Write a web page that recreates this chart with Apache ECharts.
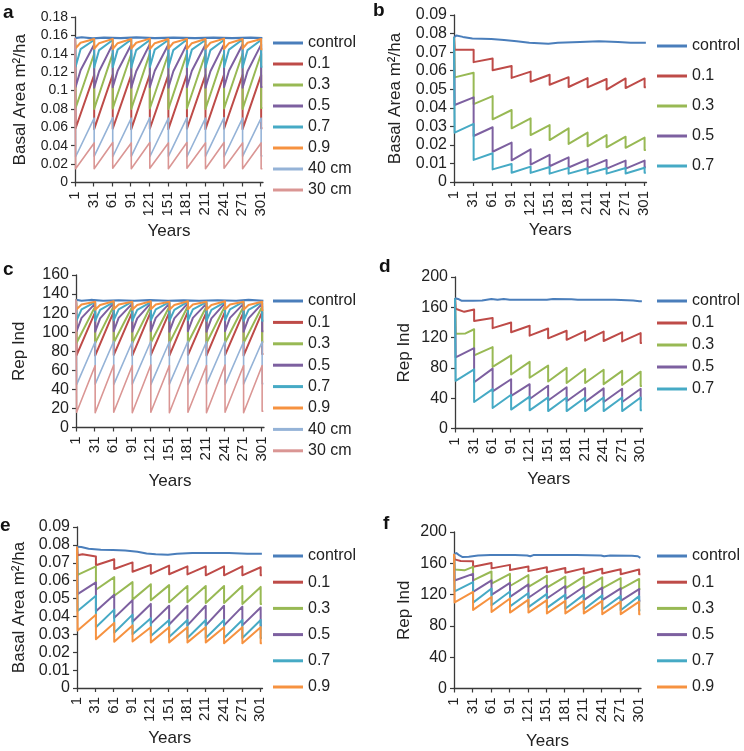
<!DOCTYPE html>
<html><head><meta charset="utf-8">
<script src="https://cdn.jsdelivr.net/npm/echarts@6/dist/echarts.min.js"></script>
<style>html,body{margin:0;padding:0;background:#fff}#c{width:744px;height:751px}</style>
</head><body><div id="c"></div>
<script>
// ---------- shared x data ----------
const tickYears = [1, 31, 61, 91, 121, 151, 181, 211, 241, 271, 301];
const cutYears  = [2, 32, 62, 92, 122, 152, 182, 212, 242, 272, 302];
const endYear = 304;
const midLag = 8;

// ---------- panel a : Basal Area (size-class harvest) ----------
const aControl = [[1,0.157],[12,0.158],[30,0.1568],[48,0.1575],[75,0.157],[100,0.1578],[130,0.157],[160,0.1575],[195,0.157],[225,0.1576],[255,0.157],[285,0.1575],[304,0.157]];
const a09Tops    = [0.157,0.156,0.1562,0.156,0.1565,0.156,0.1562,0.156,0.1565,0.156,0.156];
const a09Bottoms = [0.146,0.1455,0.145,0.1455,0.145,0.1455,0.145,0.1455,0.145,0.1455,0.145];
const a09Mids    = [0.152,0.1515,0.1515,0.152,0.1515,0.152,0.1515,0.152,0.1515,0.152];
const a07Tops    = [0.157,0.155,0.155,0.1555,0.155,0.155,0.1555,0.155,0.155,0.1555,0.155];
const a07Bottoms = [0.126,0.125,0.1255,0.125,0.1255,0.125,0.1255,0.125,0.1255,0.125,0.126];
const a07Mids    = [0.145,0.144,0.1445,0.144,0.1445,0.144,0.1445,0.144,0.1445,0.144];
const a05Tops    = [0.157,0.150,0.1505,0.150,0.1505,0.150,0.1505,0.150,0.1505,0.150,0.150];
const a05Bottoms = [0.104,0.103,0.1035,0.103,0.1035,0.103,0.1035,0.103,0.1035,0.103,0.104];
const a05Mids    = [0.122,0.121,0.1215,0.121,0.1215,0.121,0.1215,0.121,0.1215,0.121];
const a03Tops    = [0.157,0.140,0.1405,0.140,0.1405,0.140,0.1405,0.140,0.1405,0.140,0.140];
const a03Bottoms = [0.081,0.080,0.0805,0.080,0.0805,0.080,0.0805,0.080,0.0805,0.080,0.081];
const a01Tops    = [0.157,0.117,0.1175,0.117,0.1175,0.117,0.1175,0.117,0.1175,0.117,0.117];
const a01Bottoms = [0.059,0.058,0.0585,0.058,0.0585,0.058,0.0585,0.058,0.0585,0.058,0.059];
const a40Tops    = [0.157,0.070,0.0705,0.070,0.0705,0.070,0.0705,0.070,0.0705,0.070,0.070];
const a40Bottoms = [0.028,0.0285,0.028,0.0285,0.028,0.0285,0.028,0.0285,0.028,0.0285,0.029];
const a30Tops    = [0.157,0.043,0.0435,0.043,0.0435,0.043,0.0435,0.043,0.0435,0.043,0.043];
const a30Bottoms = [0.015,0.015,0.0155,0.015,0.0155,0.015,0.0155,0.015,0.0155,0.015,0.015];

// ---------- panel b : Basal Area (proportional harvest) ----------
const bControl = [[1,0.078],[5,0.079],[15,0.0782],[30,0.0773],[60,0.077],[80,0.0765],[100,0.0758],[120,0.075],[150,0.0745],[165,0.075],[200,0.0755],[230,0.0758],[260,0.0755],[280,0.075],[304,0.075]];
const b01Tops    = [0.078,0.0713,0.0665,0.0625,0.0595,0.0578,0.0565,0.056,0.0555,0.0558,0.0558];
const b01Bottoms = [0.0713,0.0646,0.0602,0.0561,0.054,0.0524,0.0512,0.051,0.0498,0.0506,0.051];
const b03Tops    = [0.078,0.0589,0.0463,0.0388,0.0343,0.0307,0.0289,0.0266,0.0253,0.0244,0.0239];
const b03Bottoms = [0.0564,0.042,0.0338,0.0289,0.0253,0.0226,0.0205,0.0192,0.0187,0.0184,0.0172];
const b05Tops    = [0.078,0.0456,0.0295,0.0212,0.0176,0.0146,0.0133,0.0122,0.0119,0.0115,0.0115];
const b05Bottoms = [0.0415,0.0248,0.0163,0.0117,0.0094,0.0085,0.0078,0.0076,0.0072,0.0072,0.008];
const b07Tops    = [0.078,0.0313,0.0155,0.0097,0.0083,0.0081,0.0076,0.0074,0.0074,0.0075,0.0077];
const b07Bottoms = [0.0266,0.0119,0.0068,0.005,0.0049,0.0045,0.0045,0.0045,0.0045,0.0046,0.005];

// ---------- panel c : Rep Ind (size-class harvest) ----------
const cControl = [[1,134],[10,133],[25,133.8],[45,133],[70,133.5],[95,133],[120,133.6],[150,133],[175,133.4],[200,133],[230,133.5],[260,133],[280,134],[304,133]];
const c09Tops    = [134,132,132.5,132,132.5,132,132.5,132,132.5,132,132];
const c09Bottoms = [124,123.5,124,123.5,124,123.5,124,123.5,124,123.5,123];
const c09Mids    = [129,128.5,129,128.5,129,128.5,129,128.5,129,128.5];
const c07Tops    = [134,131.5,131.5,132,131.5,131.5,132,131.5,131.5,132,131.5];
const c07Bottoms = [112.5,112,112.5,112,112.5,112,112.5,112,112.5,112,112];
const c07Mids    = [124,123.5,124,123.5,124,123.5,124,123.5,124,123.5];
const c05Tops    = [134,130,130.5,130,130.5,130,130.5,130,130.5,130,130];
const c05Bottoms = [101,100.5,101,100.5,101,100.5,101,100.5,101,100.5,101];
const c05Mids    = [115,114.5,115,114.5,115,114.5,115,114.5,115,114.5];
const c03Tops    = [134,127,127.5,127,127.5,127,127.5,127,127.5,127,127];
const c03Bottoms = [89,88.5,89,88.5,89,88.5,89,88.5,89,88.5,90];
const c01Tops    = [134,121,121.5,121,121.5,121,121.5,121,121.5,121,121];
const c01Bottoms = [76,75.5,76,75.5,76,75.5,76,75.5,76,75.5,77];
const c40Tops    = [134,90,90.5,90,90.5,90,90.5,90,90.5,90,90];
const c40Bottoms = [45,45.5,45,45.5,45,45.5,45,45.5,45,45.5,46];
const c30Tops    = [134,65,65.5,65,65.5,65,65.5,65,65.5,65,65];
const c30Bottoms = [16,15.5,16,15.5,16,15.5,16,15.5,16,15.5,17];

// ---------- panel d : Rep Ind (proportional harvest) ----------
const dControl = [[1,172],[6,171],[12,168.5],[30,168.5],[45,169],[60,171],[70,170],[80,171],[90,170],[150,170],[160,171],[190,170.5],[200,170],[230,170],[260,170],[290,169],[300,168],[304,168]];
const d01Tops    = [172,157,146,140,135.7,132,129,128.5,128,127,126];
const d01Bottoms = [158,142,132.5,127,122.6,119,117,116,115.5,115,113];
const d01Extra   = [[16,154]];
const d03Tops    = [172,131,107.5,96.5,88,83,80,78.5,77.5,76,75];
const d03Bottoms = [125,96.5,81.3,71.3,67,62,60,60,58.5,57.5,56];
const d03Extra   = [[18,125.5]];
const d05Tops    = [172,106,79,65,58.5,56.5,54.5,53.5,53,52.5,52.5];
const d05Bottoms = [94,61,49,43,39,37,36,35,35,35,39];
const d07Tops    = [172,78,52,44.5,42,41,41,41,41,41,41];
const d07Bottoms = [63,35,27,25,24,23,23,23,23,23,24];

// ---------- panel e : Basal Area (proportional harvest, variant) ----------
const eControl = [[1,0.079],[8,0.0788],[20,0.0778],[40,0.0773],[60,0.0772],[80,0.0768],[100,0.0762],[115,0.0752],[130,0.0748],[150,0.0745],[165,0.075],[190,0.0755],[220,0.0755],[250,0.0755],[280,0.075],[304,0.075]];
const e01Tops    = [0.079,0.0735,0.072,0.0702,0.0688,0.0684,0.068,0.068,0.068,0.068,0.0675];
const e01Bottoms = [0.0742,0.0686,0.0665,0.065,0.0638,0.0636,0.0635,0.063,0.063,0.063,0.063];
const e01Extra   = [[10,0.0748]];
const e03Tops    = [0.079,0.068,0.062,0.0592,0.058,0.0575,0.057,0.057,0.057,0.057,0.0565];
const e03Bottoms = [0.0632,0.0549,0.0516,0.0494,0.049,0.048,0.048,0.0475,0.0475,0.047,0.047];
const e05Tops    = [0.079,0.059,0.0521,0.049,0.047,0.046,0.046,0.046,0.046,0.0455,0.045];
const e05Bottoms = [0.0525,0.0429,0.0392,0.037,0.036,0.0355,0.035,0.035,0.035,0.035,0.035];
const e07Tops    = [0.079,0.0516,0.0438,0.041,0.039,0.038,0.038,0.038,0.038,0.038,0.038];
const e07Bottoms = [0.043,0.034,0.0309,0.030,0.029,0.0285,0.028,0.028,0.028,0.028,0.028];
const e09Tops    = [0.079,0.041,0.0364,0.035,0.034,0.034,0.034,0.034,0.034,0.034,0.034];
const e09Bottoms = [0.0322,0.0272,0.0259,0.026,0.0255,0.0255,0.0255,0.0255,0.025,0.025,0.025];

// ---------- panel f : Rep Ind (proportional harvest, variant) ----------
const fControl = [[1,172],[5,173],[10,170],[15,168],[25,168.5],[40,170],[60,170.5],[100,170.5],[120,170],[125,169],[130,170.5],[200,170.5],[240,170],[245,169],[255,170],[290,169.5],[300,169],[304,167]];
const f01Tops    = [172,162.5,160.5,158,156,155,154,153.5,153,152.5,152];
const f01Bottoms = [165,155.5,153.5,151.5,150,148.5,148,147,147,146,146];
const f01Extra   = [[12,163]];
const f03Tops    = [172,155.5,149.5,146.5,145,144,143,143,142,141,140];
const f03Bottoms = [152,138.3,134,131,130,129,128,128,128,127,127];
const f03Extra   = [[18,151]];
const f05Tops    = [172,146.5,138.3,135,133,132,131,130,129,128,127];
const f05Bottoms = [138,123.4,119.6,117,116,115,114,113,113,112,112];
const f07Tops    = [172,136,127.7,124,122,121,120,120,119,118,118];
const f07Bottoms = [124,109.8,106.4,105,104,103,102,101,101,100,100];
const f09Tops    = [172,123.4,117,115,113.5,113,112,112,112,111,111];
const f09Bottoms = [110,100.4,97.9,97,97,96,96,96,95,95,95];

// ---------- legend names ----------
const namesA = ['control','0.1','0.3','0.5','0.7','0.9','40 cm','30 cm'];
const namesB = ['control','0.1','0.3','0.5','0.7'];
const namesE = ['control','0.1','0.3','0.5','0.7','0.9'];

// ---------- styling (not data) ----------
const FONT = '"Liberation Sans", Arial, Helvetica, sans-serif';
const colors = {'control':'#4A7EBB','0.1':'#BE4B48','0.3':'#98B954','0.5':'#7D60A0','0.7':'#46AAC5','0.9':'#F69240','40 cm':'#95B3D7','30 cm':'#DA9694'};
const layout = [
  {grid:{left:75,top:17,width:188,height:165.5},  yMax:0.18, yInt:0.02, yName:'Basal Area m²/ha', yGap:46, xGap:40, yFont:14, leg:{left:273,top:35,gap:5},  letter:['a',3,3]},
  {grid:{left:454,top:15,width:192.5,height:167}, yMax:0.09, yInt:0.01, yName:'Basal Area m²/ha', yGap:50, xGap:40, yFont:16, leg:{left:657,top:38,gap:14}, letter:['b',373,1]},
  {grid:{left:76,top:275,width:188,height:152.5}, yMax:160,  yInt:20,   yName:'Rep Ind',          yGap:48, xGap:45, yFont:16, leg:{left:273,top:293,gap:5.4},letter:['c',3,260]},
  {grid:{left:455,top:277,width:187.5,height:151.5},yMax:200,yInt:40,   yName:'Rep Ind',          yGap:42, xGap:42, yFont:16, leg:{left:657,top:293,gap:6},  letter:['d',379,257]},
  {grid:{left:77,top:527,width:185.5,height:161}, yMax:0.09, yInt:0.01, yName:'Basal Area m²/ha', yGap:49, xGap:42, yFont:16, leg:{left:273,top:548,gap:10.2},letter:['e',0,516]},
  {grid:{left:454,top:532,width:187,height:156.5},yMax:200,  yInt:40,   yName:'Rep Ind',          yGap:41, xGap:44, yFont:16, leg:{left:657,top:548,gap:10.2},letter:['f',383,514]}
];

// ---------- builders ----------
function saw(tops, bottoms, mids, extra) {
  let pts = [[1, tops[0]]];
  cutYears.forEach((c, i) => {
    pts.push([c, tops[i]], [c, bottoms[i]]);
    if (mids && mids[i] != null) pts.push([c + midLag, mids[i]]);
  });
  pts.push([endYear, bottoms[bottoms.length - 1]]);
  if (extra) { pts = pts.concat(extra); pts.sort((p, q) => p[0] - q[0]); }
  return pts;
}
function ser(name, gi, data, w) {
  return {type:'line', name, xAxisIndex:gi, yAxisIndex:gi, data, symbol:'none', showSymbol:false,
    lineStyle:{color:colors[name], width:w || 2, join:'round'}, itemStyle:{color:colors[name]},
    animation:false, silent:true};
}

const panelSeries = [
  [ser('control',0,aControl,2.2), ser('0.1',0,saw(a01Tops,a01Bottoms)), ser('0.3',0,saw(a03Tops,a03Bottoms)),
   ser('0.5',0,saw(a05Tops,a05Bottoms,a05Mids)), ser('0.7',0,saw(a07Tops,a07Bottoms,a07Mids)), ser('0.9',0,saw(a09Tops,a09Bottoms,a09Mids)),
   ser('40 cm',0,saw(a40Tops,a40Bottoms),1.6), ser('30 cm',0,saw(a30Tops,a30Bottoms),1.6)],
  [ser('control',1,bControl), ser('0.1',1,saw(b01Tops,b01Bottoms)), ser('0.3',1,saw(b03Tops,b03Bottoms)),
   ser('0.5',1,saw(b05Tops,b05Bottoms)), ser('0.7',1,saw(b07Tops,b07Bottoms))],
  [ser('control',2,cControl,2.2), ser('0.1',2,saw(c01Tops,c01Bottoms)), ser('0.3',2,saw(c03Tops,c03Bottoms)),
   ser('0.5',2,saw(c05Tops,c05Bottoms,c05Mids)), ser('0.7',2,saw(c07Tops,c07Bottoms,c07Mids)), ser('0.9',2,saw(c09Tops,c09Bottoms,c09Mids)),
   ser('40 cm',2,saw(c40Tops,c40Bottoms),1.6), ser('30 cm',2,saw(c30Tops,c30Bottoms),1.6)],
  [ser('control',3,dControl), ser('0.1',3,saw(d01Tops,d01Bottoms,null,d01Extra)), ser('0.3',3,saw(d03Tops,d03Bottoms,null,d03Extra)),
   ser('0.5',3,saw(d05Tops,d05Bottoms)), ser('0.7',3,saw(d07Tops,d07Bottoms))],
  [ser('control',4,eControl), ser('0.1',4,saw(e01Tops,e01Bottoms,null,e01Extra)), ser('0.3',4,saw(e03Tops,e03Bottoms)),
   ser('0.5',4,saw(e05Tops,e05Bottoms)), ser('0.7',4,saw(e07Tops,e07Bottoms)), ser('0.9',4,saw(e09Tops,e09Bottoms))],
  [ser('control',5,fControl), ser('0.1',5,saw(f01Tops,f01Bottoms,null,f01Extra)), ser('0.3',5,saw(f03Tops,f03Bottoms,null,f03Extra)),
   ser('0.5',5,saw(f05Tops,f05Bottoms)), ser('0.7',5,saw(f07Tops,f07Bottoms)), ser('0.9',5,saw(f09Tops,f09Bottoms))]
];
const legendNames = [namesA, namesB, namesA, namesB, namesE, namesE];

const axisColor = '#3a3a3a';
const option = {
  backgroundColor:'#fff',
  animation:false,
  textStyle:{fontFamily:FONT},
  title: layout.map(L => ({text:L.letter[0], left:L.letter[1], top:L.letter[2], padding:0,
    textStyle:{fontFamily:FONT, fontSize:19, fontWeight:'bold', color:'#111'}})),
  grid: layout.map(L => Object.assign({containLabel:false}, L.grid)),
  xAxis: layout.map((L, i) => ({type:'value', gridIndex:i, min:1, max:305,
    name:'Years', nameLocation:'middle', nameGap:L.xGap, nameTextStyle:{fontFamily:FONT, fontSize:17, color:'#222'},
    axisLine:{show:true, lineStyle:{color:axisColor, width:1.3}},
    axisTick:{show:true, customValues:tickYears, length:4, lineStyle:{color:axisColor, width:1.2}},
    axisLabel:{customValues:tickYears, rotate:90, fontFamily:FONT, fontSize:15, color:'#222', margin:9},
    splitLine:{show:false}})),
  yAxis: layout.map((L, i) => ({type:'value', gridIndex:i, min:0, max:L.yMax, interval:L.yInt,
    name:L.yName, nameLocation:'middle', nameGap:L.yGap, nameTextStyle:{fontFamily:FONT, fontSize:17, color:'#222'},
    axisLine:{show:true, lineStyle:{color:axisColor, width:1.3}},
    axisTick:{show:true, length:4, lineStyle:{color:axisColor, width:1.2}},
    axisLabel:{fontFamily:FONT, fontSize:L.yFont, color:'#222', margin:7},
    splitLine:{show:false}})),
  legend: layout.map((L, i) => ({data:legendNames[i], orient:'vertical', left:L.leg.left, top:L.leg.top,
    itemGap:L.leg.gap, itemWidth:30, itemHeight:3, icon:'rect', padding:0, selectedMode:false,
    textStyle:{fontFamily:FONT, fontSize:16, color:'#222', lineHeight:16}})),
  series: [].concat(...panelSeries)
};
const chart = echarts.init(document.getElementById('c'), null, {renderer:'canvas'});
chart.setOption(option);
</script>
</body></html>
